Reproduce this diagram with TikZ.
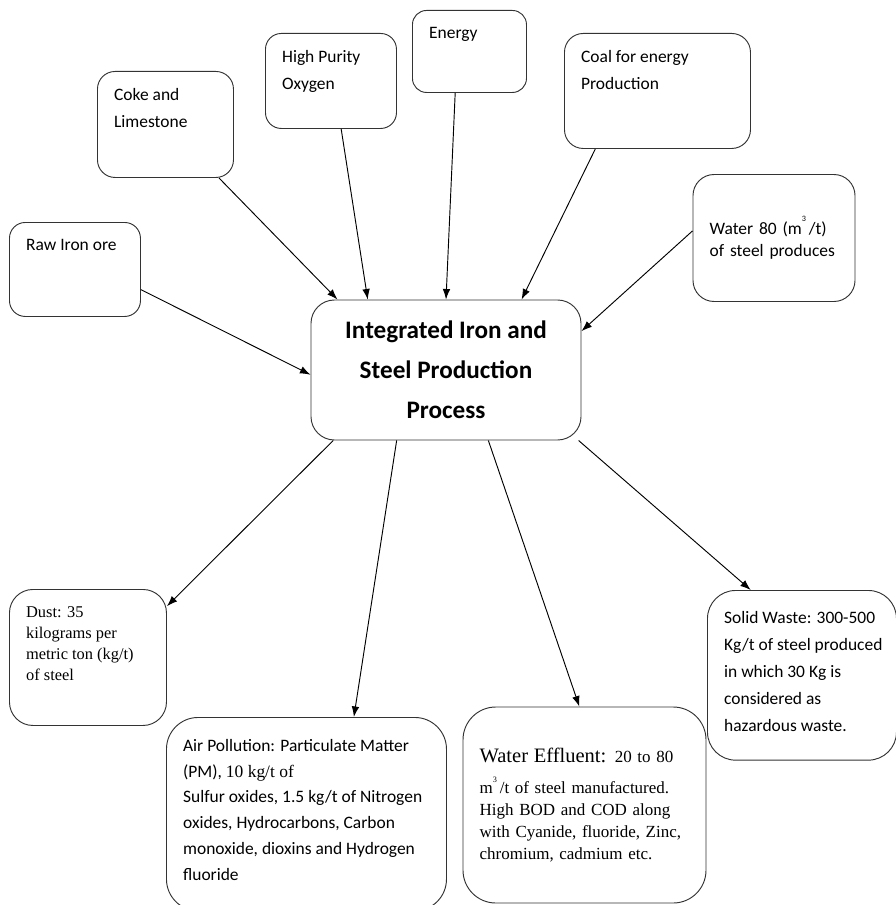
\documentclass[tikz,border=0pt]{standalone}
\usepackage{fontspec}
\setmainfont{Carlito}
\newfontfamily\tnr{Liberation Serif}
\usetikzlibrary{arrows.meta}

\begin{document}
\begin{tikzpicture}[x=0.03cm, y=-0.03cm,
    box/.style={draw=black!80, line width=0.8pt, rounded corners=14pt,
        anchor=north west, inner sep=0.5cm, font=\fontsize{14.9}{23}\selectfont},
    link/.style={line width=0.8pt, -{Latex[length=9pt, width=6.5pt]}}]

    \useasboundingbox (0,0) rectangle (895,905);

    % 中央のプロセス
    \node[box, anchor=center, rounded corners=20pt, minimum width=8.1cm, minimum height=4.2cm,
        align=center, font=\bfseries\fontsize{21.5}{34}\selectfont] (proc) at (446,370)
        {Integrated Iron and\\Steel Production\\Process};

    % 入力
    \node[box, rounded corners=13.5pt] (raw) at (9,222)
        {\parbox[t][1.82cm][t]{2.93cm}{\raggedright Raw Iron ore}};
    \node[box, rounded corners=15pt] (coke) at (97,71)
        {\parbox[t][2.18cm][t]{3.08cm}{\raggedright Coke and\\Limestone}};
    \node[box, rounded corners=13.5pt] (oxy) at (265,33)
        {\parbox[t][1.85cm][t]{2.93cm}{\raggedright High Purity\\Oxygen}};
    \node[box, rounded corners=12pt] (energy) at (412,10)
        {\parbox[t][1.46cm][t]{2.42cm}{\raggedright Energy}};
    \node[box, rounded corners=16pt] (coal) at (564,33)
        {\parbox[t][2.45cm][t]{4.58cm}{\raggedright Coal for energy\\Production}};
    \node[box, anchor=center, rounded corners=18pt, minimum width=4.86cm, minimum height=3.81cm,
        text width=3.86cm, align=left, font=\fontsize{14.9}{19.5}\selectfont] (water) at (774,238)
        {Water 80 (m\raisebox{1.5ex}{\scriptsize 3}\,/t)\\of steel produces};

    % 出力
    \node[box, rounded corners=20pt] (dust) at (9,589) {\parbox[t][3.08cm][t]{3.71cm}{\raggedright
        \tnr\fontsize{14}{18}\selectfont Dust: 35\\kilograms per\\metric ton (kg/t)\\of steel}};
    \node[box, rounded corners=27pt, inner ysep=0.65cm] (air) at (166,717)
        {\parbox[t][4.5cm][t]{7.4cm}{\raggedright
        \fontsize{14.9}{22}\selectfont Air Pollution: Particulate Matter\\(PM), {\tnr 10 kg/t of}\\
        Sulfur oxides, 1.5 kg/t of Nitrogen\\oxides, Hydrocarbons, Carbon\\
        monoxide, dioxins and Hydrogen\\fluoride}};
    \node[box, anchor=center, rounded corners=28pt, minimum width=7.29cm, minimum height=5.88cm,
        text width=6.29cm, align=left, font=\tnr\fontsize{14.5}{18.7}\selectfont] (eff) at (584.5,805)
        {{\fontsize{17.5}{18.7}\selectfont Water Effluent:} 20 to 80\\[8pt]
        m\raisebox{1.5ex}{\scriptsize 3}\,/t of steel manufactured.\\High BOD and COD along\\
        with Cyanide, fluoride, Zinc,\\chromium, cadmium etc.};
    \node[box, rounded corners=24pt, inner ysep=0.62cm] (solid) at (707,590)
        {\parbox[t][3.85cm][t]{4.67cm}{\raggedright
        Solid Waste: 300-500\\\mbox{Kg/t of steel produced}\\in which 30 Kg is\\considered as\\hazardous waste.}};

    % 矢印の描画
    \draw[link] (raw.-17) -- (proc.182);
    \draw[link] (coke.-45) -- (proc.147);
    \draw[link] (oxy.-78) -- (proc.138);
    \draw[link] (energy.-109) -- (proc.north);
    \draw[link] (coal.-137) -- (proc.43);
    \draw[link] (water.175) -- (proc.16);
    \draw[link] (proc.-148) -- (dust.33);
    \draw[link] (proc.-125) -- (air.64);
    \draw[link] (proc.-59) -- (eff.93);
    \draw[link] (proc.-28) -- (solid.121);

\end{tikzpicture}
\end{document}
